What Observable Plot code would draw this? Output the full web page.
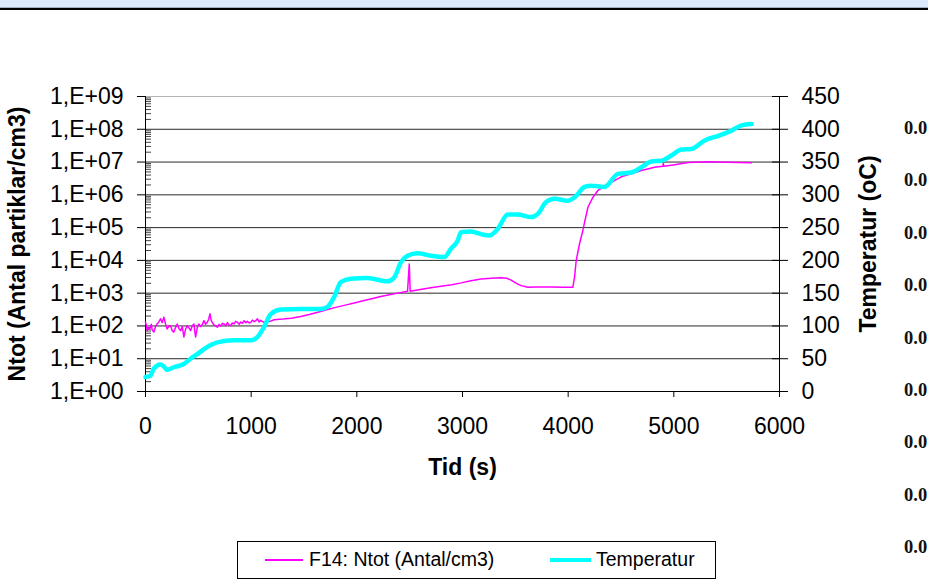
<!DOCTYPE html>
<html>
<head>
<meta charset="utf-8">
<script src="https://cdn.jsdelivr.net/npm/d3@7"></script>
<script src="https://cdn.jsdelivr.net/npm/@observablehq/plot@0.6"></script>
<style>
  html, body { margin: 0; padding: 0; background: #fff; width: 928px; height: 583px; overflow: hidden; }
  body { font-family: Arial, "Liberation Sans", sans-serif; }
  #page { position: relative; width: 928px; height: 583px; }
  #chart { position: absolute; left: 0; top: 0; }
  #band { position: absolute; left: 0; top: 0; width: 928px; height: 7px; background: #dce9fc; border-bottom: 1px solid #9fb1c8; }
  #bandline { position: absolute; left: 0; top: 8px; width: 928px; height: 2px; background: #000; }
  #legend { position: absolute; left: 237px; top: 541px; width: 477px; height: 36px; border: 1px solid #000; background: #fff; font-size: 19.5px; color: #000; }
  .sw { position: absolute; top: 18px; }
  .lt { position: absolute; top: 6px; white-space: nowrap; line-height: 22px; }
  .side { position: absolute; left: 904px; font-family: "Liberation Serif", "DejaVu Serif", serif; font-weight: bold; font-size: 18.5px; line-height: 18px; color: #111; white-space: nowrap; }
</style>
</head>
<body>
<div id="page">
  <div id="chart"></div>
  <div id="band"></div>
  <div id="bandline"></div>
  <div id="legend"></div>
  <div id="side"></div>
</div>
<script>
// Ntot: particle number concentration (Antal/cm3) against time (s)
const ntotTime = [0, 8, 16, 24, 32, 47, 55, 63, 79, 95, 110, 126, 142, 158, 174, 190, 205, 221, 237, 253, 268, 284, 300, 316, 332, 348, 363, 379, 395, 411, 427, 442, 458, 466, 474, 490, 505, 521, 537, 553, 569, 585, 597, 610, 621, 632, 648, 664, 680, 696, 712, 727, 743, 759, 775, 790, 806, 822, 838, 854, 870, 886, 901, 917, 933, 949, 965, 981, 996, 1012, 1028, 1044, 1059, 1075, 1091, 1106, 1122, 1150, 1180, 1216, 1300, 1380, 1469, 1550, 1640, 1722, 1800, 1890, 1975, 2060, 2140, 2227, 2320, 2400, 2480, 2496, 2505, 2600, 2700, 2796, 2900, 2986, 3080, 3175, 3270, 3365, 3420, 3460, 3510, 3555, 3618, 3700, 3840, 3950, 4044, 4060, 4076, 4107, 4139, 4155, 4187, 4234, 4281, 4344, 4408, 4502, 4597, 4692, 4818, 4897, 4900, 4905, 5008, 5134, 5324, 5500, 5735];
const ntotValue = [129, 105, 72, 89, 79, 91, 112, 76, 65, 95, 115, 132, 166, 126, 186, 112, 81, 98, 102, 71, 65, 89, 115, 83, 72, 95, 46, 79, 102, 87, 72, 100, 115, 71, 46, 89, 115, 95, 110, 145, 112, 129, 158, 234, 151, 129, 107, 100, 91, 112, 98, 120, 115, 102, 126, 107, 102, 123, 115, 138, 129, 112, 132, 120, 145, 126, 138, 123, 129, 151, 135, 145, 166, 132, 148, 138, 129, 145, 138, 155, 162, 172, 195, 222, 265, 316, 368, 432, 501, 585, 680, 794, 905, 1020, 1150, 7760, 1150, 1300, 1460, 1620, 1820, 2060, 2400, 2690, 2850, 2950, 2850, 2510, 2000, 1700, 1510, 1540, 1550, 1520, 1510, 3020, 9770, 31600, 81300, 145000, 417000, 832000, 1350000, 1910000, 2400000, 3550000, 4370000, 5500000, 6920000, 7410000, 9330000, 7410000, 8320000, 9770000, 10200000, 9900000, 9550000];

// Temperature (oC) against time (s)
const tempTime = [0, 30, 47, 79, 142, 174, 205, 268, 363, 427, 490, 585, 680, 837, 995, 1059, 1121, 1185, 1280, 1469, 1659, 1722, 1785, 1848, 1943, 2101, 2291, 2354, 2417, 2480, 2575, 2701, 2828, 2891, 2954, 2986, 3081, 3175, 3254, 3333, 3428, 3523, 3649, 3713, 3791, 3870, 3997, 4060, 4155, 4218, 4344, 4471, 4597, 4692, 4787, 4882, 4976, 5071, 5166, 5292, 5419, 5545, 5640, 5735];
const tempValue = [22, 23, 24, 35, 41, 38, 33, 37, 42, 50, 57, 68, 75, 78, 78, 83, 98, 118, 125, 126, 126, 129, 144, 167, 172, 173, 168, 174, 197, 207, 211, 207, 205, 218, 230, 243, 244, 240, 238, 248, 270, 270, 266, 271, 289, 294, 291, 296, 312, 314, 312, 332, 334, 342, 351, 352, 360, 369, 370, 383, 390, 398, 406, 408];

// Axis ticks
const timeTicks = [0, 1000, 2000, 3000, 4000, 5000, 6000];
const decadeExponents = [0, 1, 2, 3, 4, 5, 6, 7, 8, 9];
const tempTicks = [0, 50, 100, 150, 200, 250, 300, 350, 400, 450];

// Labels
const xTitle = "Tid (s)";
const yLeftTitle = "Ntot (Antal partiklar/cm3)";
const yRightTitle = "Temperatur (oC)";
const seriesNames = ["F14: Ntot (Antal/cm3)", "Temperatur"];
const sideLabels = ["0.0", "0.0", "0.0", "0.0", "0.0", "0.0", "0.0", "0.0", "0.0"];

const ntot = ntotTime.map((t, i) => ({t, n: ntotValue[i]}));
const temp = tempTime.map((t, i) => ({t, T: tempValue[i]}));

// The temperature axis (0–450) shares the log frame: 50 oC per decade
const tempToY = T => Math.pow(10, T / 50);
const decades = decadeExponents.map(e => Math.pow(10, e));
const tempTickPos = tempTicks.map(tempToY);
const minorTicks = decadeExponents.slice(0, -1).flatMap(e => [2, 3, 4, 5, 6, 7, 8, 9].map(m => m * Math.pow(10, e)));
const innerGrid = decades.slice(1, -1);

const font = "Arial, 'Liberation Sans', sans-serif";

const chart = Plot.plot({
  width: 928,
  height: 510,
  marginLeft: 145,
  marginRight: 149,
  marginTop: 96,
  marginBottom: 119,
  style: {fontFamily: font, fontSize: "23px", background: "transparent", color: "#000"},
  x: {domain: [0, 6000], label: null},
  y: {type: "log", domain: [1, 1e9], label: null},
  marks: [
    Plot.ruleY(innerGrid, {stroke: "#2a2a2a", strokeWidth: 1}),
    Plot.ruleY([1e9], {stroke: "#b4b4b4", strokeWidth: 1}),
    // minor log ticks, drawn inside the frame
    Plot.axisY({anchor: "left", ticks: minorTicks, tickSize: 6, dx: 6, stroke: "#444", fill: "none", label: null}),
    Plot.axisY({anchor: "left", ticks: decades, tickSize: 8, tickPadding: 14, label: null,
      tickFormat: d => "1,E+" + String(Math.round(Math.log10(d))).padStart(2, "0")}),
    // temperature ticks cross the right axis line
    Plot.axisY({anchor: "right", ticks: tempTickPos, tickSize: 8, dx: -8, fill: "none", label: null}),
    Plot.axisY({anchor: "right", ticks: tempTickPos, tickSize: 8, tickPadding: 14, label: null,
      tickFormat: d => String(Math.round(50 * Math.log10(d)))}),
    Plot.axisX({ticks: timeTicks, tickSize: 6, tickPadding: 20, label: null, tickFormat: d => String(d)}),
    Plot.ruleX([0], {stroke: "#000"}),
    Plot.ruleX([6000], {stroke: "#000"}),
    Plot.ruleY([1], {stroke: "#000"}),
    Plot.line(ntot, {x: "t", y: "n", stroke: "#ff00ff", strokeWidth: 1.5, strokeLinejoin: "round"}),
    Plot.line(temp, {x: "t", y: d => tempToY(d.T), stroke: "#00ffff", strokeWidth: 4.5, curve: "monotone-x", strokeLinejoin: "round"}),
    Plot.text([yLeftTitle], {frameAnchor: "left", dx: -128, rotate: -90, textAnchor: "middle", lineAnchor: "middle", fontWeight: "bold", fontSize: 23, fill: "#000"}),
    Plot.text([yRightTitle], {frameAnchor: "right", dx: 89, rotate: -90, textAnchor: "middle", lineAnchor: "middle", fontWeight: "bold", fontSize: 23, fill: "#000"}),
    Plot.text([xTitle], {frameAnchor: "bottom", dy: 76, textAnchor: "middle", lineAnchor: "middle", fontWeight: "bold", fontSize: 23, fill: "#000"})
  ]
});
document.getElementById("chart").appendChild(chart);

// Legend
const legend = document.getElementById("legend");
const legendItems = [
  {name: seriesNames[0], color: "#ff00ff", w: 1.5, sx: 27, sl: 38, tx: 71},
  {name: seriesNames[1], color: "#00ffff", w: 3.5, sx: 312, sl: 41, tx: 358}
];
legendItems.forEach(it => {
  const sw = document.createElement("div");
  sw.className = "sw";
  sw.style.left = it.sx + "px";
  sw.style.width = it.sl + "px";
  sw.style.height = it.w + "px";
  sw.style.marginTop = (-it.w / 2) + "px";
  sw.style.background = it.color;
  legend.appendChild(sw);
  const lt = document.createElement("div");
  lt.className = "lt";
  lt.style.left = it.tx + "px";
  lt.textContent = it.name;
  legend.appendChild(lt);
});

// Labels along the right edge
const side = document.getElementById("side");
sideLabels.forEach((s, i) => {
  const d = document.createElement("div");
  d.className = "side";
  d.style.top = (119 + i * 52.4) + "px";
  d.textContent = s;
  side.appendChild(d);
});
</script>
</body>
</html>
